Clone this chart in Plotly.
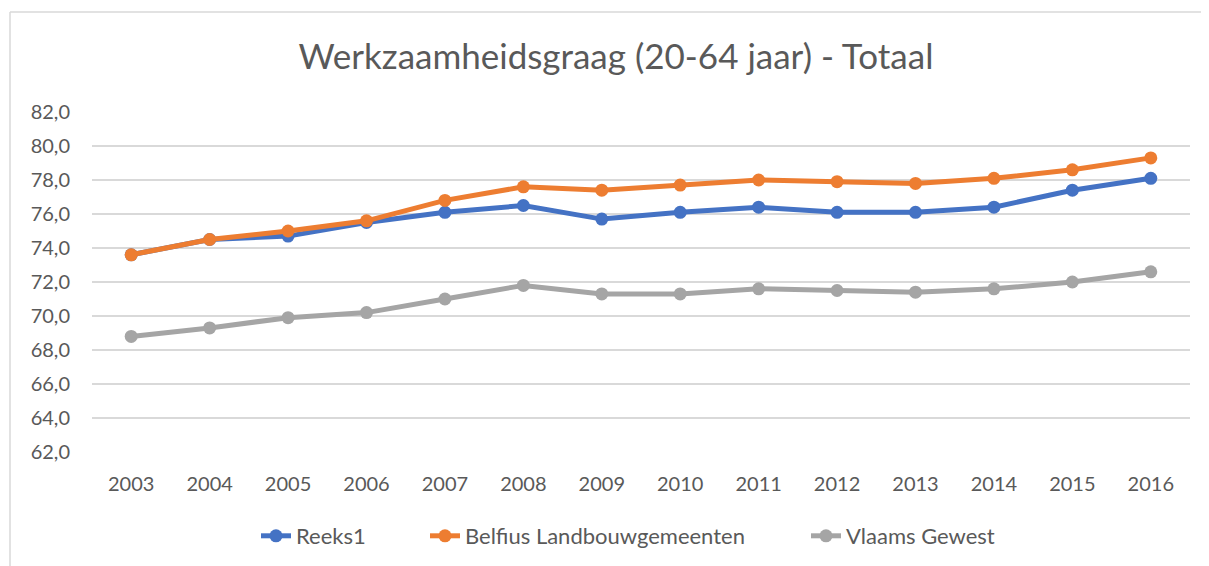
import plotly.graph_objects as go

years = ["2003", "2004", "2005", "2006", "2007", "2008", "2009", "2010",
         "2011", "2012", "2013", "2014", "2015", "2016"]
reeks1 = [73.6, 74.5, 74.7, 75.5, 76.1, 76.5, 75.7, 76.1, 76.4, 76.1, 76.1, 76.4, 77.4, 78.1]
belfius = [73.6, 74.5, 75.0, 75.6, 76.8, 77.6, 77.4, 77.7, 78.0, 77.9, 77.8, 78.1, 78.6, 79.3]
vlaams = [68.8, 69.3, 69.9, 70.2, 71.0, 71.8, 71.3, 71.3, 71.6, 71.5, 71.4, 71.6, 72.0, 72.6]
y_ticks = [62, 64, 66, 68, 70, 72, 74, 76, 78, 80, 82]

# (name, values, colour, legend id, legend text start in screen px)
series = [
    ("Reeks1", reeks1, "#4472C4", "legend", 298),
    ("Belfius Landbouwgemeenten", belfius, "#ED7D31", "legend2", 467),
    ("Vlaams Gewest", vlaams, "#A5A5A5", "legend3", 848),
]

OFF = 8  # page body margin offset
W, H = 1209, 566
L = 92 - OFF
T = 112 - OFF
pw = 1190 - 92
ph = 452 - 112
R = W - L - pw
B = H - T - ph

def px(x):
    return (x - OFF - L) / pw

def py(y):
    return (T + ph - (y - OFF)) / ph

FONT = "Lato, Open Sans, sans-serif"
GREY = "#595959"

fig = go.Figure()
for name, vals, color, lg, _ in series:
    fig.add_trace(go.Scatter(
        x=years, y=vals, name=name, mode="lines+markers",
        line=dict(color=color, width=5),
        marker=dict(color=color, size=13),
        legend=lg,
    ))

legends = {}
for name, vals, color, lg, tx in series:
    legends[lg] = dict(orientation="h", x=px(tx - 42), xanchor="left",
                       y=py(536), yanchor="middle",
                       font=dict(size=22, color=GREY, family=FONT),
                       bgcolor="rgba(0,0,0,0)", borderwidth=0)

fig.update_layout(
    width=W, height=H,
    margin=dict(l=L, r=R, t=T, b=B, autoexpand=False),
    paper_bgcolor="white", plot_bgcolor="white",
    separators=",.",
    font=dict(family=FONT, color=GREY, size=20),
    title=dict(text="Werkzaamheidsgraag (20-64 jaar) - Totaal",
               x=(616 - OFF) / W, xanchor="center",
               y=1 - (57 - OFF) / H, yanchor="middle",
               font=dict(size=35, color=GREY, family=FONT)),
    xaxis=dict(range=[-0.5, len(years) - 0.5], showgrid=False, showline=False,
               ticks="", zeroline=False, ticklabelstandoff=18,
               tickfont=dict(size=20, color=GREY)),
    yaxis=dict(range=[62, 82], tickvals=y_ticks, tickformat=".1f",
               showgrid=True, gridcolor="#D9D9D9", gridwidth=1.5,
               zeroline=False, showline=False, ticks="", ticklabelstandoff=21,
               tickfont=dict(size=20, color=GREY)),
    showlegend=True,
    shapes=[
        dict(type="line", xref="paper", yref="paper",
             x0=px(10), x1=px(10), y0=py(H + OFF), y1=py(12),
             line=dict(color="#D9D9D9", width=1.5)),
        dict(type="line", xref="paper", yref="paper",
             x0=px(10), x1=px(W + OFF), y0=py(12), y1=py(12),
             line=dict(color="#D9D9D9", width=1.5)),
    ],
    **legends,
)

fig.write_html("out.html")
